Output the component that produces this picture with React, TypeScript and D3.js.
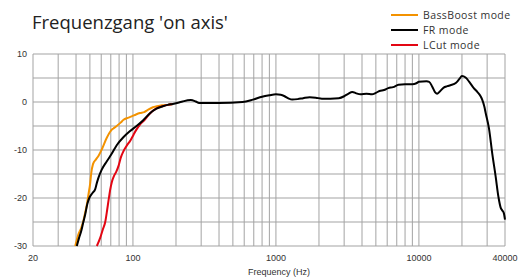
import React from "react";
import * as d3 from "d3";

// frequency response curves: [Hz, dB]
const bassBoostMode: [number, number][] = [
  [39.5, -30], [41.5, -27.6], [43.5, -26.2], [44.8, -25], [46, -23.5], [47.6, -21.4],
  [49, -19], [50.2, -17], [51, -15], [52.5, -13], [55, -12], [57.5, -11.2], [60.5, -9.9],
  [65.5, -7.5], [70, -6], [73, -5.5], [77, -5], [82, -4.3], [86, -3.7], [92, -3.3],
  [98, -3.0], [105, -2.6], [112, -2.3], [120, -2.1], [128, -1.6], [138, -1.1], [147, -0.9],
  [160, -0.7], [175, -0.6], [190, -0.4],
];

const lCutMode: [number, number][] = [
  [55.9, -30], [59, -28.3], [61.5, -26.6], [64, -25], [66, -22.5], [67.5, -20.5],
  [69.3, -18.3], [71, -16.8], [73.5, -15.5], [76.5, -14.5], [79.5, -13.2], [82, -11.7],
  [86, -10.2], [90, -9.2], [96, -8], [101, -6.8], [106, -5.7], [112, -4.7], [120, -3.8],
  [128, -2.8], [136, -2.0], [145, -1.4], [160, -0.9], [175, -0.6], [190, -0.4],
];

const frMode: [number, number][] = [
  [40.5, -30], [42, -28.3], [43.2, -27.2], [45, -25], [46.3, -23.5], [48, -21.2],
  [49.5, -20], [52, -19], [54.4, -18.2], [56, -16.8], [57.5, -15.7], [60.5, -14.1],
  [65.5, -12.4], [71, -10.8], [77, -9], [86, -7.3], [95, -6.1], [106, -5], [118, -3.8],
  [131, -2.4], [146, -1.4], [162, -0.9], [175, -0.6], [190, -0.4], [210, -0.1],
  [222, 0.1], [254, 0.4], [275, 0.1], [290, -0.2], [400, -0.2], [584, 0], [690, 0.5],
  [800, 1.1], [900, 1.4], [1000, 1.6], [1080, 1.5], [1150, 1.2], [1230, 0.7], [1300, 0.5],
  [1420, 0.6], [1550, 0.8], [1720, 1.0], [1900, 0.9], [2100, 0.7], [2400, 0.7], [2750, 0.8],
  [3000, 1.2], [3200, 1.7], [3420, 2.1], [3650, 1.8], [3900, 1.6], [4300, 1.7], [4700, 1.6],
  [5000, 1.9], [5300, 2.3], [5700, 2.5], [6100, 2.9], [6600, 3.1], [7200, 3.6], [8000, 3.7],
  [9000, 3.7], [9600, 3.9], [10000, 4.2], [11300, 4.3], [11800, 4.2], [12400, 3.2],
  [13000, 2.0], [13400, 1.7], [14000, 2.2], [14900, 3.0], [15800, 3.3], [16600, 3.5],
  [18200, 4.0], [19200, 4.8], [20000, 5.4], [21200, 5.1], [22500, 4.2], [24200, 2.9],
  [25600, 2.1], [27000, 1.2], [27700, 0.5], [28700, -1.0], [29300, -2.3], [30900, -5.5],
  [32600, -10.8], [34400, -15.5], [36000, -19.8], [37300, -22.0], [38300, -22.6],
  [39300, -23.2], [40000, -24.5],
];

const xTickLabels = [20, 100, 1000, 10000, 40000];
const yTickLabels = [10, 0, -10, -20, -30];
const yGrid = [10, 5, 0, -5, -10, -15, -20, -25, -30];
const xGrid = [
  20, 30, 40, 50, 60, 70, 80, 90, 100, 200, 300, 400, 500, 600, 700, 800, 900, 1000,
  2000, 3000, 4000, 5000, 6000, 7000, 8000, 9000, 10000, 20000, 30000, 40000,
];

const legend = [
  { name: "BassBoost mode", color: "#f39200", data: bassBoostMode },
  { name: "FR mode", color: "#000000", data: frMode },
  { name: "LCut mode", color: "#e30613", data: lCutMode },
];

const W = 526;
const H = 280;

export default function App() {
  const x = d3.scaleLog().domain([20, 40000]).range([33, 505]);
  const y = d3.scaleLinear().domain([-30, 10]).range([246, 54]);
  const line = d3
    .line<[number, number]>()
    .x((d) => x(d[0]))
    .y((d) => y(d[1]))
    .curve(d3.curveMonotoneX);

  const sans = "'Open Sans', sans-serif";
  const arial = "'Liberation Sans', Arial, sans-serif";
  // draw order: orange, red, black on top
  const drawOrder = [legend[0], legend[2], legend[1]];

  return (
    <svg
      width={W}
      height={H}
      style={{ position: "absolute", left: 0, top: 0, background: "#fff" }}
    >
      <text x={32} y={29} fontFamily={sans} fontSize={18.5} fill="#222">
        Frequenzgang 'on axis'
      </text>

      {/* grid */}
      <g stroke="#a3a3a3" strokeWidth={1}>
        {yGrid.map((v) => (
          <line key={"h" + v} x1={x(20)} x2={x(40000)} y1={y(v)} y2={y(v)} />
        ))}
        {xGrid.map((f) => (
          <line key={"v" + f} x1={x(f)} x2={x(f)} y1={y(10)} y2={y(-30)} />
        ))}
      </g>

      {/* tick labels */}
      <g fontFamily={arial} fontSize={9} fill="#333">
        {yTickLabels.map((v) => (
          <text key={v} x={27} y={y(v) + 3} textAnchor="end">
            {v}
          </text>
        ))}
        {xTickLabels.map((f) => (
          <text key={f} x={x(f)} y={261} textAnchor="middle">
            {f}
          </text>
        ))}
        <text x={279} y={275} textAnchor="middle">
          Frequency (Hz)
        </text>
      </g>

      {/* curves */}
      <g fill="none" strokeWidth={2} strokeLinejoin="round">
        {drawOrder.map((s) => (
          <path key={s.name} d={line(s.data) ?? ""} stroke={s.color} />
        ))}
      </g>

      {/* legend */}
      <g fontFamily={sans} fontSize={10.5} letterSpacing={0.4} fill="#333">
        {legend.map((s, i) => (
          <g key={s.name} transform={`translate(0, ${15 + i * 15})`}>
            <line x1={391} x2={418} y1={0} y2={0} stroke={s.color} strokeWidth={2} />
            <text x={423} y={4}>
              {s.name}
            </text>
          </g>
        ))}
      </g>
    </svg>
  );
}
